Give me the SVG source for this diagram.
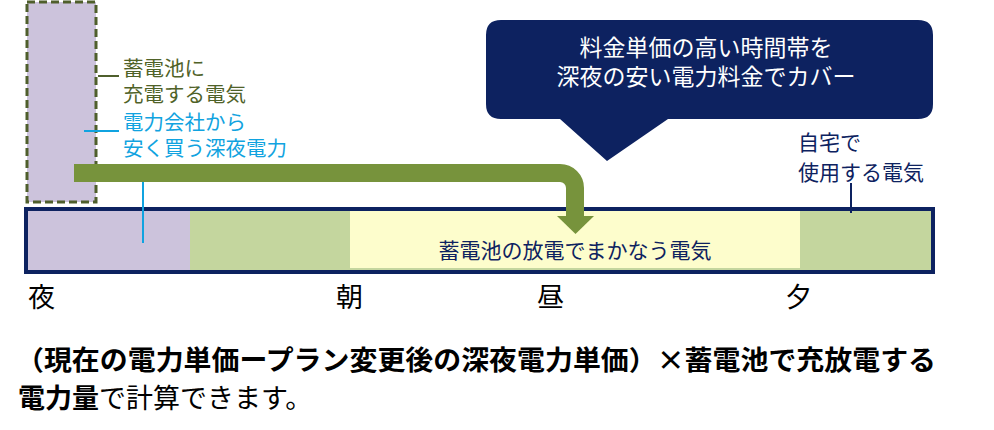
<svg xmlns="http://www.w3.org/2000/svg" width="994" height="430" viewBox="0 0 994 430">
<style>
text{font-family:"Noto Sans CJK JP","Noto Sans",sans-serif}
.olive{fill:#4f6228;font-size:20.5px}
.blue{fill:#10a3e0;font-size:20.5px}
.navy{fill:#0d2260}
.white{fill:#ffffff;font-size:23px}
.time{fill:#000;font-size:27px}
.note{fill:#000;font-size:27px}
</style>
<rect width="994" height="430" fill="#fff"/>
<g id="battery">
<rect x="27" y="2" width="69" height="200" fill="#ccc3dc" stroke="#4f5f2c" stroke-width="3" stroke-dasharray="8 4"/>
</g>
<g id="bar">
<rect x="26" y="209" width="907" height="63" fill="#c4d69e"/>
<rect x="26" y="209" width="164" height="63" fill="#ccc3dc"/>
<rect x="350" y="210" width="450" height="58" fill="#fdfdcc"/>
<rect x="26" y="209" width="907" height="63" fill="none" stroke="#0d2260" stroke-width="4"/>
<text class="navy" x="575" y="258" font-size="21" text-anchor="middle">蓄電池の放電でまかなう電気</text>
</g>
<g id="callout">
<path d="M501,20 H918 Q933,20 933,35 V104 Q933,119 918,119 H668 L607,161 L560,119 H501 Q486,119 486,104 V35 Q486,20 501,20 Z" fill="#0d2260"/>
<text class="white" x="706" y="56" text-anchor="middle">料金単価の高い時間帯を</text>
<text class="white" x="706" y="85" text-anchor="middle">深夜の安い電力料金でカバー</text>
</g>
<g id="label-charge">
<text class="olive" x="123" y="76">蓄電池に</text>
<text class="olive" x="123" y="102">充電する電気</text>
</g>
<g id="label-night">
<text class="blue" x="123" y="130">電力会社から</text>
<text class="blue" x="123" y="156">安く買う深夜電力</text>
</g>
<g id="label-home">
<text class="navy" x="798" y="150" font-size="21">自宅で</text>
<text class="navy" x="798" y="180" font-size="21">使用する電気</text>
</g>
<g id="connectors">
<line x1="98" y1="76" x2="119" y2="76" stroke="#4f5f2c" stroke-width="2"/>
<line x1="84" y1="131" x2="119" y2="131" stroke="#10a3e0" stroke-width="2"/>
<path d="M74,173 H560 A15,15 0 0 1 575,188 V218" fill="none" stroke="#77933c" stroke-width="18"/>
<polygon points="557,216 594,216 575.5,234" fill="#77933c"/>
<line x1="143" y1="182" x2="143" y2="243" stroke="#10a3e0" stroke-width="2"/>
<line x1="851" y1="183" x2="851" y2="213" stroke="#0d2260" stroke-width="2"/>
</g>
<g id="timeline">
<text class="time" x="28" y="307">夜</text>
<text class="time" x="336" y="307">朝</text>
<text class="time" x="537" y="307">昼</text>
<text class="time" x="785" y="307">夕</text>
</g>
<g id="note">
<text class="note" x="16" y="370" font-weight="bold" textLength="920" lengthAdjust="spacingAndGlyphs">（現在の電力単価ープラン変更後の深夜電力単価）×蓄電池で充放電する</text>
<text class="note" x="18" y="408"><tspan font-weight="bold">電力量</tspan>で計算できます。</text>
</g>
</svg>
